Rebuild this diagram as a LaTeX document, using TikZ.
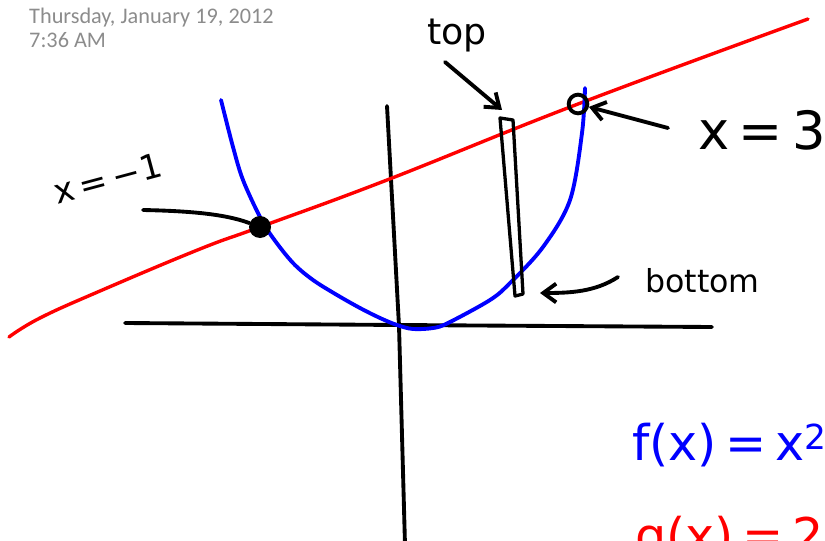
\documentclass[tikz,border=0pt]{standalone}
\usepackage{fontspec}
\setmainfont[WordSpace=0.55]{DejaVu Sans}
\newfontfamily\stampfont{Carlito}
\usetikzlibrary{arrows.meta,positioning}
\definecolor{inkred}{RGB}{255,0,0}
\definecolor{inkblue}{RGB}{0,0,255}
\definecolor{stampgrey}{RGB}{140,140,140}
\begin{document}
\begin{tikzpicture}[x=0.03cm, y=-0.03cm,
  ink/.style={line width=3.3pt, line cap=round, line join=round},
  axisline/.style={ink, black},
  parab/.style={ink, inkblue},
  chord/.style={ink, inkred, line width=2.9pt},
  pointer/.style={ink, -{Straight Barb[length=11pt, width=16pt]}},
  dotfill/.style={circle, fill=black, inner sep=0pt, minimum size=0.66cm},
  dotopen/.style={circle, draw=black, line width=3.3pt, inner sep=0pt, minimum size=0.56cm},
  hand/.style={inner sep=0pt, anchor=base west},
  stamp/.style={font=\stampfont\fontsize{19}{20}\selectfont, text=stampgrey, inner sep=0pt, anchor=base west}]
\useasboundingbox (0,0) rectangle (825,541);
\clip (0,0) rectangle (825,541);
\node[stamp] (date) at (29,24) {Thursday, January 19, 2012};
\node[stamp] (time) at (29,48) {7:36 AM};
% axes
\draw[axisline] (125,323) -- (399,325) -- (712,327);
\draw[axisline] (387,106) -- (399,326) -- (405,545);
% curves
\draw[chord] plot[smooth, tension=0.7] coordinates {(9,337) (40,318) (100,291) (200,249) (260,227) (387,180) (578,104) (808,19)};
\draw[parab] plot[smooth, tension=0.55] coordinates {(221,100) (233,147) (243,180) (260,217) (273,238) (293,263) (313,280) (337,295) (360,308) (380,318) (397,325) (413,329) (433,328) (448,323) (490,300) (510,283) (543,247) (570,200) (582,133) (585,88)};
% strip
\coordinate (s1) at (500,118);
\coordinate (s2) at (513,120);
\coordinate (s3) at (523,294);
\coordinate (s4) at (515,296);
\draw[ink, line width=2.8pt] (s1) -- (s2) -- (s3) -- (s4) -- cycle;
% points
\node[dotfill] (ptA) at (260,227) {};
\node[dotopen] (ptB) at (578,104) {};
% labels
\node[hand, font=\fontsize{29}{30}\selectfont, rotate=15] (lblA) at (57,205) {x = −1};
\node[hand, font=\fontsize{45}{46}\selectfont] (lblB) at (698,150) {x = 3};
\node[hand, font=\fontsize{31}{33}\selectfont] (lbltop) at (427,45) {top};
\node[hand, font=\fontsize{27}{30}\selectfont] (lblbot) at (645,292) {bottom};
\node[hand, font=\fontsize{42}{44}\selectfont, text=inkblue] (fx) at (632,460) {f(x) = x\textsuperscript{2}};
\node[hand, font=\fontsize{42}{44}\selectfont, text=inkred] (gx) at (635,553) {g(x) = 2x + 3};
% pointers
\coordinate (tailA) at (143,210);
\coordinate (tailB) at (668,128);
\coordinate (tailtop) at (445,62);
\coordinate (tiptop) at (502,110);
\coordinate (tailbot) at (618,277);
\coordinate (tipbot) at (540,293);
\draw[ink] (tailA) .. controls (190,211) and (225,214) .. (ptA);
\draw[pointer] (tailB) -- (ptB);
\draw[pointer] (tailtop) -- (tiptop);
\draw[pointer] (tailbot) .. controls (595,292) and (570,293) .. (tipbot);
\end{tikzpicture}
\end{document}
